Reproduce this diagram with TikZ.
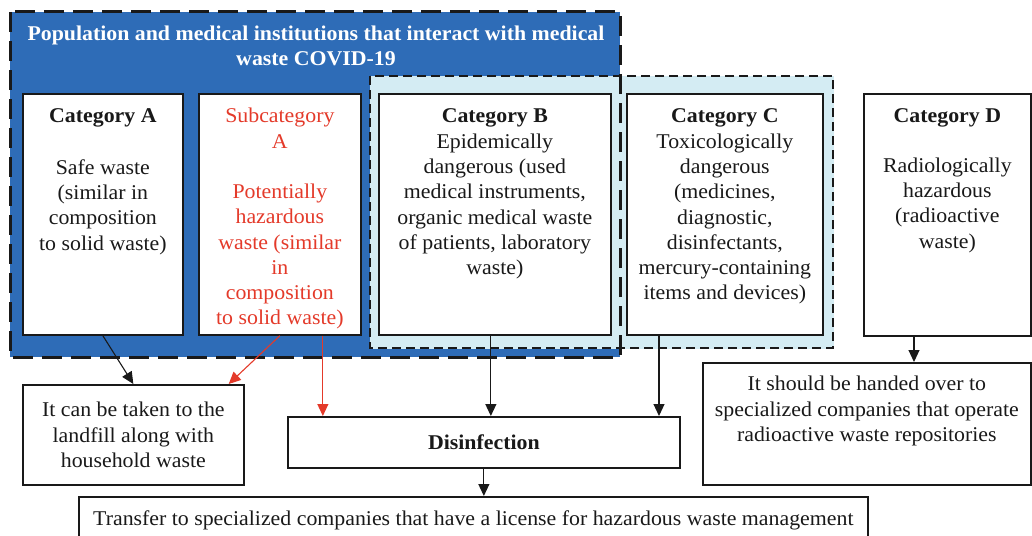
\documentclass[tikz,border=0pt]{standalone}
\usepackage{fontspec}
\setmainfont{Liberation Serif}[FakeStretch=1.04]
\usetikzlibrary{arrows.meta,calc}
\definecolor{instblue}{RGB}{46,108,183}
\definecolor{groupblue}{RGB}{212,236,243}
\definecolor{hazred}{RGB}{228,58,42}
\definecolor{ink}{RGB}{25,25,25}
% top-aligned text block of fixed size
\newcommand{\topblock}[4]{\parbox[t][#2][t]{#1}{\centering\rule{0pt}{#3}#4}}
\begin{document}
\begin{tikzpicture}[x=1pt,y=-1pt,
  font=\fontsize{21}{25.3}\selectfont,
  box/.style={draw=ink, line width=1.7pt, fill=white, inner sep=0pt, anchor=north west, text=ink},
  cbox/.style={box, align=center},
  arr/.style={draw=ink, line width=1.1pt, -{Triangle[length=12pt,width=11pt]}},
  redarr/.style={draw=hazred, line width=1.1pt, -{Triangle[length=12pt,width=11pt]}, hazred}
  ]
\useasboundingbox (0,0) rectangle (1032,535);
\clip (0,0) rectangle (1032,535);

% group of institutions (blue panel) and hazardous group (light panel)
\fill[instblue] (10,12) rectangle (620,357);
\draw[groupblue, fill=groupblue] (370,76) rectangle (833,348);
\draw[ink, line width=1.3pt, dash pattern=on 9pt off 5pt] (370,76) rectangle (833,348);
\draw[ink, line width=3pt, dash pattern=on 20pt off 9pt] (10,12) rectangle (620,357);

\node[text=white, font=\fontsize{21}{25.3}\selectfont\bfseries, align=center] (title) at (316,46)
  {Population and medical institutions that interact with medical\\waste COVID-19};

% categories
\node[box] (catA) at (22,93) {\topblock{160pt}{241pt}{29pt}{\textbf{Category A}\\[26pt]Safe waste\\(similar in\\composition\\to solid waste)}};
\node[box, text=hazred] (subA) at (198,93) {\topblock{162pt}{241pt}{29pt}{Subcategory\\A\\[25pt]Potentially\\hazardous\\waste (similar\\in\\composition\\to solid waste)}};
\node[box] (catB) at (378,93) {\topblock{232pt}{241pt}{29pt}{\textbf{Category B}\\Epidemically\\dangerous (used\\medical instruments,\\organic medical waste\\of patients, laboratory\\waste)}};
\node[box] (catC) at (626,93) {\topblock{196pt}{241pt}{29pt}{\textbf{Category C}\\Toxicologically\\dangerous\\(medicines,\\diagnostic,\\disinfectants,\\mercury-containing\\items and devices)}};
\node[box] (catD) at (863,93) {\topblock{167pt}{242pt}{29pt}{\textbf{Category D}\\[24pt]Radiologically\\hazardous\\(radioactive\\waste)}};

% outcomes
\node[cbox, minimum width=221pt, minimum height=100pt] (landfill) at (22,384)
  {It can be taken to the\\landfill along with\\household waste};
\node[cbox, minimum width=392pt, minimum height=51pt, font=\fontsize{21}{25.3}\selectfont\bfseries] (disinf) at (287,416)
  {Disinfection};
\node[box] (radio) at (702,362) {\topblock{328pt}{122pt}{28pt}{It should be handed over to\\specialized companies that operate\\radioactive waste repositories}};
\node[cbox, minimum width=789pt, minimum height=48pt] (transfer) at (78,496)
  {Transfer to specialized companies that have a license for hazardous waste management};

% connectors
\draw[arr] (catA.south) -- (landfill.north);
\draw[redarr] (subA.south) -- ($(landfill.north east)+(-16,0)$);
\coordinate (subAout) at ($(subA.south)+(43,0)$);
\draw[redarr] (subAout) -- (subAout |- disinf.north);
\coordinate (catBout) at ($(catB.south)+(-4,0)$);
\draw[arr] (catBout) -- (catBout |- disinf.north);
\coordinate (catCout) at ($(catC.south west)+(33,0)$);
\draw[arr] (catCout) -- (catCout |- disinf.north);
\draw[arr] (disinf.south) -- (disinf.south |- transfer.north);
\coordinate (catDout) at ($(catD.south west)+(51,0)$);
\draw[arr] (catDout) -- (catDout |- radio.north);
\end{tikzpicture}
\end{document}
